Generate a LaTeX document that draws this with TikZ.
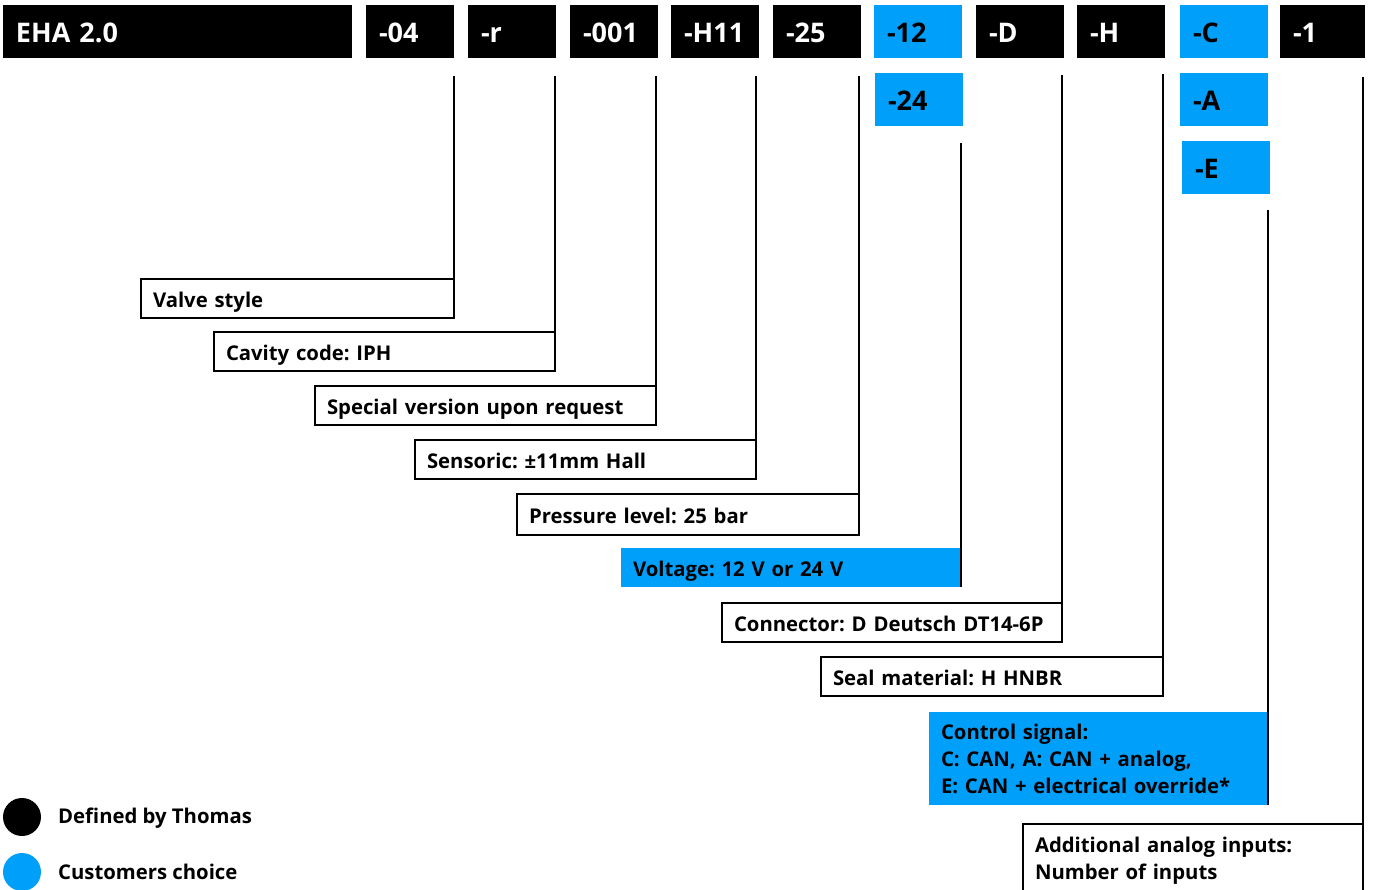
\documentclass[tikz,border=0pt]{standalone}
\usepackage{fontspec}
\setmainfont{Open Sans}
\frenchspacing
\usetikzlibrary{calc}
\definecolor{cblue}{RGB}{0,159,250}
\tikzset{
  codebox/.style={anchor=north west, fill=black, text=white, inner xsep=13pt, inner ysep=0pt,
    outer sep=0pt, minimum height=53pt, text width=62pt, align=left, text height=23pt, text depth=0pt,
    font=\fontsize{27}{30}\selectfont\bfseries},
  bluecode/.style={codebox, fill=cblue, text=black},
  lbl/.style={anchor=north west, draw=black, line width=1.6pt, inner xsep=12pt, inner ysep=0pt,
    outer sep=0pt, minimum height=39pt, align=left, font=\fontsize{20.3}{27}\selectfont\bfseries},
  one/.style={text height=18pt, text depth=0pt},
  bluelbl/.style={lbl, draw=none, fill=cblue},
  conn/.style={line width=1.8pt, black},
  legtext/.style={anchor=west, inner sep=0pt, font=\fontsize{20.3}{27}\selectfont\bfseries}
}
\begin{document}
\begin{tikzpicture}[x=1pt,y=-1pt]
\useasboundingbox (0,0) rectangle (1373,890);
% code row
\node[codebox, text width=323pt] (eha) at (3,5) {EHA 2.0};
\node[codebox] (c04) at (366,5) {-04};
\node[codebox] (cr) at (468,5) {-r};
\node[codebox] (c001) at (570,5) {-001};
\node[codebox] (cH11) at (671,5) {-H11};
\node[codebox] (c25) at (773,5) {-25};
\node[bluecode] (c12) at (874,5) {-12};
\node[codebox] (cD) at (976,5) {-D};
\node[codebox] (cH) at (1077,5) {-H};
\node[bluecode] (cC) at (1180,5) {-C};
\node[codebox, text width=59pt] (c1) at (1280,5) {-1};
\node[bluecode] (c24) at (875,73) {-24};
\node[bluecode] (cA) at (1180,73) {-A};
\node[bluecode] (cE) at (1182,141) {-E};
% labels
\node[lbl, one, text width=289pt] (valve) at (141,279) {Valve style};
\node[lbl, one, text width=317pt] (cavity) at (214,332) {Cavity code: IPH};
\node[lbl, one, text width=317pt] (special) at (315,386) {Special version upon request};
\node[lbl, one, text width=317pt] (sensoric) at (415,440) {Sensoric: ±11mm Hall};
\node[lbl, one, text width=318pt, minimum height=41pt] (pressure) at (517,494) {Pressure level: 25 bar};
\node[bluelbl, one, text width=316pt] (voltage) at (621,548) {Voltage: 12 V or 24 V};
\node[lbl, one, text width=316pt] (connector) at (722,603) {Connector: D Deutsch DT14-6P};
\node[lbl, one, text width=318pt] (seal) at (821,657) {Seal material: H HNBR};
\node[bluelbl, text width=315pt, minimum height=93pt] (control) at (929,712) {Control signal:\\C: CAN, A: CAN + analog,\\E: CAN + electrical override*};
\node[lbl, text width=316pt, minimum height=73pt] (additional) at (1023,824) {Additional analog inputs:\\Number of inputs};
% connectors
\draw[conn] ($(c04.south -| valve.east)+(0,18)$) -- (valve.south east);
\draw[conn] ($(cr.south -| cavity.east)+(0,18)$) -- (cavity.south east);
\draw[conn] ($(c001.south -| special.east)+(0,18)$) -- (special.south east);
\draw[conn] ($(cH11.south -| sensoric.east)+(0,18)$) -- (sensoric.south east);
\draw[conn] ($(c25.south -| pressure.east)+(0,18)$) -- (pressure.south east);
\draw[conn] ($(c24.south -| voltage.east)+(0,17)$) -- (voltage.south east);
\draw[conn] ($(cD.south -| connector.east)+(0,17)$) -- (connector.south east);
\draw[conn] ($(cH.south -| seal.east)+(0,16)$) -- (seal.south east);
\draw[conn] ($(cE.south -| control.east)+(0,16)$) -- (control.south east);
\draw[conn] ($(c1.south -| additional.east)+(0,19)$) -- (additional.north east);
% legend
\node[circle, fill=black, minimum size=38pt, inner sep=0pt] (legblack) at (22,817) {};
\node[legtext] (legblacktext) at (58,818) {Defined by Thomas};
\node[circle, fill=cblue, minimum size=38pt, inner sep=0pt] (legblue) at (22,872) {};
\node[legtext] (legbluetext) at (58,872) {Customers choice};
\end{tikzpicture}
\end{document}
